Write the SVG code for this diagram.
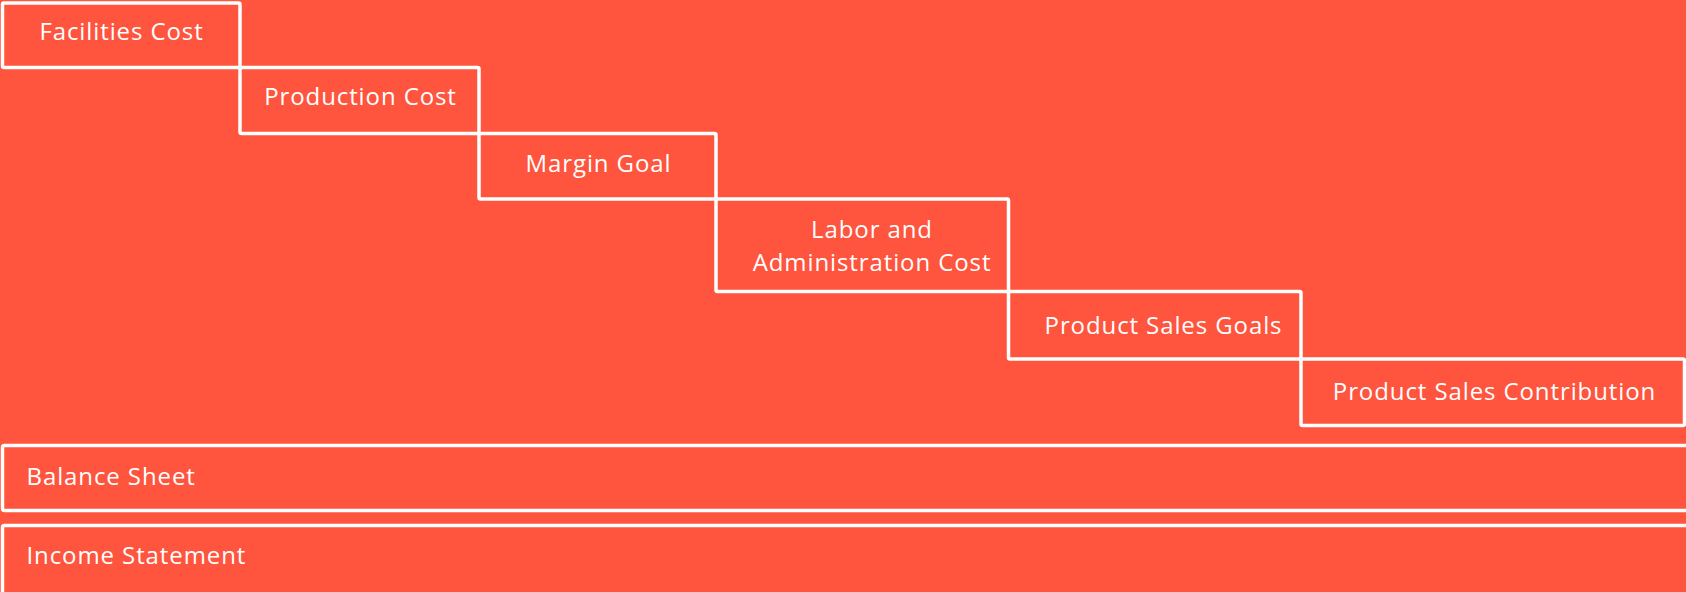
<svg xmlns="http://www.w3.org/2000/svg" width="1686" height="592" viewBox="0 0 1686 592">
  <style>
    .box { fill: none; stroke: #ffffff; stroke-width: 3.5; }
    .lbl { fill: #ffffff; font-family: "Open Sans", "Noto Sans", "Liberation Sans", sans-serif; font-size: 24px; font-weight: 400; letter-spacing: 0.9px; }
    .mid { text-anchor: middle; }
  </style>
  <!-- background -->
  <rect x="0" y="0" width="1686" height="592" fill="#FF543D"/>

  <!-- staircase of cost blocks -->
  <g id="facilities-cost">
    <rect class="box" x="2.5" y="3" width="237.5" height="64.5" rx="1.5"/>
    <text class="lbl mid" x="121.5" y="40">Facilities Cost</text>
  </g>
  <g id="production-cost">
    <rect class="box" x="240" y="67.5" width="239" height="66" rx="1.5"/>
    <text class="lbl mid" x="360.5" y="105">Production Cost</text>
  </g>
  <g id="margin-goal">
    <rect class="box" x="479" y="133.5" width="237" height="65.5" rx="1.5"/>
    <text class="lbl mid" x="598.5" y="172">Margin Goal</text>
  </g>
  <g id="labor-admin-cost">
    <rect class="box" x="716" y="199" width="292.5" height="92.5" rx="1.5"/>
    <text class="lbl mid"><tspan x="872" y="238">Labor and</tspan><tspan x="872" y="271">Administration Cost</tspan></text>
  </g>
  <g id="product-sales-goals">
    <rect class="box" x="1008.5" y="291.5" width="292.5" height="67.5" rx="1.5"/>
    <text class="lbl mid" x="1163.5" y="334">Product Sales Goals</text>
  </g>
  <g id="product-sales-contribution">
    <rect class="box" x="1301" y="359" width="383.5" height="66.5" rx="1.5"/>
    <text class="lbl mid" x="1494.5" y="400">Product Sales Contribution</text>
  </g>

  <!-- full-width statements -->
  <g id="balance-sheet">
    <rect class="box" x="2.5" y="445.5" width="1700" height="65" rx="2"/>
    <text class="lbl" x="26.5" y="485">Balance Sheet</text>
  </g>
  <g id="income-statement">
    <rect class="box" x="2.5" y="525.5" width="1700" height="80" rx="2"/>
    <text class="lbl" x="26.5" y="564">Income Statement</text>
  </g>
</svg>
